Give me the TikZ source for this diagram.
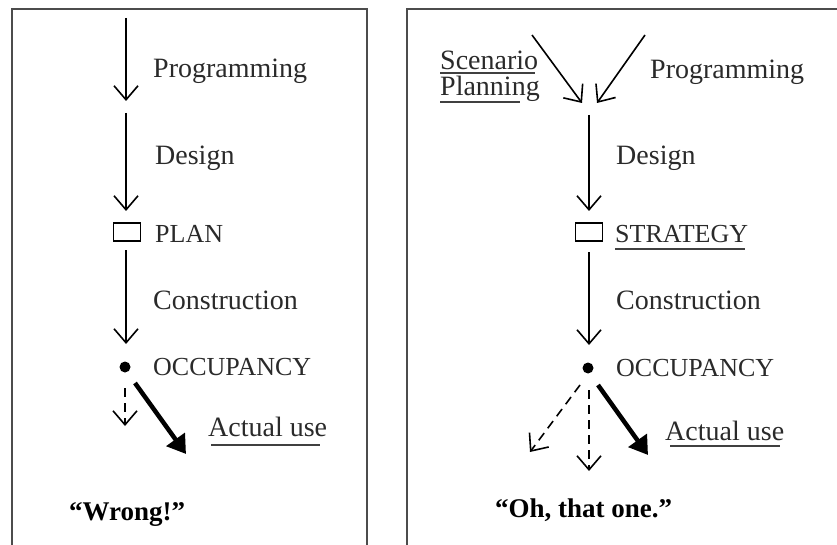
\documentclass[tikz,border=0pt]{standalone}
\usepackage{fontspec}
\setmainfont{Liberation Serif}
\usetikzlibrary{arrows.meta}
\definecolor{ink}{HTML}{2A2A2A}
\tikzset{
  x=1pt, y=-1pt,
  frame/.style={draw=black!70, line width=1.2pt},
  flow/.style={draw=black, line width=1.6pt, -{Straight Barb[length=14pt,width=24pt,line width=1.6pt]}},
  alt/.style={flow, dash pattern=on 9pt off 6pt},
  actual/.style={draw=black, line width=4.5pt, -{Triangle[length=18pt,width=22pt]}},
  lbl/.style={text=ink, anchor=west, inner sep=0pt, font=\fontsize{28}{30}\selectfont},
  caps/.style={text=ink, anchor=west, inner sep=0pt, font=\fontsize{26}{28}\selectfont},
  quote/.style={text=black, anchor=west, inner sep=0pt, font=\fontsize{27}{30}\selectfont\bfseries},
  ul/.style={draw=black!75, line width=1.3pt},
  plan/.style={draw=black, line width=1.5pt, minimum width=27pt, minimum height=18pt, inner sep=0pt},
  occ/.style={circle, fill=black, minimum size=11pt, inner sep=0pt},
}
\begin{document}
\begin{tikzpicture}
\useasboundingbox (0,0) rectangle (837,545);
% panels
\draw[frame] (12,545) -- (12,9) -- (367,9) -- (367,545);
\draw[frame] (407,545) -- (407,9) -- (837,9);

% ---------- left panel ----------
\coordinate (l0) at (126,18);
\coordinate (l1) at (126,101);
\coordinate (l1b) at (126,113);
\coordinate (l2) at (126,211);
\node[plan] (lplan) at (127,232) {};
\coordinate (l2b) at (126,250);
\coordinate (l3) at (126,344);
\node[occ] (locc) at (125,367) {};
\coordinate (ldash) at (125,426);
\coordinate (lact) at (186,454);

\draw[flow] (l0) -- (l1);
\draw[flow] (l1b) -- (l2);
\draw[flow] (l2b) -- (l3);
\draw[alt] (125,388) -- (ldash);
\draw[actual] (135,383) -- (lact);

\node[lbl] (lprog) at (153,71) {Programming};
\node[lbl] (ldes) at (155,158) {Design};
\node[caps] (lplant) at (155,234) {PLAN};
\node[lbl] (lcons) at (153,300) {Construction};
\node[caps] (loccl) at (153,367) {OCCUPANCY};
\node[lbl] (luse) at (208,427) {Actual use};
\draw[ul] (211,445) -- (320,445);
\node[quote] (lwrong) at (69,514) {“Wrong!”};

% ---------- right panel ----------
\node[lbl, align=left] (rscen) at (440,60) {Scenario};
\node[lbl, align=left] (rplanning) at (440,89) {Planning};
\draw[ul] (440,73) -- (535,73);
\draw[ul] (440,102) -- (520,102);
\coordinate (s0) at (532,35);
\coordinate (s1) at (582,103);
\coordinate (p0) at (645,35);
\coordinate (p1) at (597,103);
\draw[flow] (s0) -- (s1);
\draw[flow] (p0) -- (p1);
\node[lbl] (rprog) at (650,72) {Programming};

\coordinate (r1b) at (589,115);
\coordinate (r2) at (589,211);
\draw[flow] (r1b) -- (r2);
\node[lbl] (rdes) at (616,158) {Design};
\node[plan] (rplan) at (589,232) {};
\node[caps] (rstrat) at (615,234) {STRATEGY};
\draw[ul] (615,249) -- (745,249);

\coordinate (r2b) at (589,252);
\coordinate (r3) at (589,345);
\draw[flow] (r2b) -- (r3);
\node[lbl] (rcons) at (616,300) {Construction};
\node[occ] (rocc) at (588,368) {};
\node[caps] (roccl) at (616,368) {OCCUPANCY};

\coordinate (rdl) at (530,452);
\coordinate (rdm) at (589,471);
\coordinate (ract) at (648,455);
\draw[alt] (580,385) -- (rdl);
\draw[alt] (589,390) -- (rdm);
\draw[actual] (598,385) -- (ract);
\node[lbl] (ruse) at (665,431) {Actual use};
\draw[ul] (670,446) -- (780,446);
\node[quote] (roh) at (495,510) {“Oh, that one.”};
\end{tikzpicture}
\end{document}
